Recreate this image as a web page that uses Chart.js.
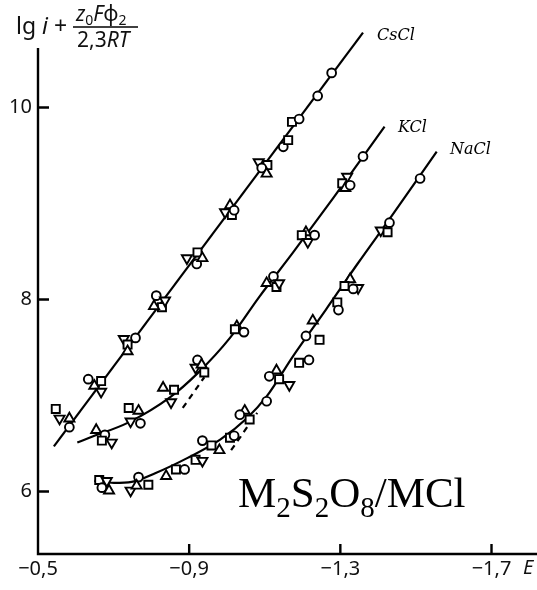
<!DOCTYPE html>
<html>
<head>
<meta charset="utf-8">
<script src="https://cdn.jsdelivr.net/npm/chart.js@4"></script>
<style>
  body { margin: 0; background: #fff; }
  canvas { display: block; }
</style>
</head>
<body>
<canvas id="chart" width="537" height="590"></canvas>
<script>
// axis ticks
const xTicks = [-0.5, -0.9, -1.3, -1.7];
const yTicks = [6, 8, 10];

// fitted curves (E, lg i + ...)
const csclLineE = [-0.542, -1.360];
const csclLineLg = [6.47, 10.78];
const kclLineE = [-0.604, -0.636, -0.740, -0.849, -0.922, -1.008, -1.086, -1.175, -1.282, -1.417];
const kclLineLg = [6.51, 6.56, 6.72, 6.98, 7.23, 7.60, 8.03, 8.49, 9.06, 9.80];
const naclLineE = [-0.649, -0.701, -0.748, -0.810, -0.896, -0.982, -1.052, -1.105, -1.175, -1.261, -1.347, -1.436, -1.555];
const naclLineLg = [6.11, 6.09, 6.10, 6.19, 6.35, 6.54, 6.76, 6.99, 7.41, 7.89, 8.38, 8.87, 9.54];

// dashed extrapolations
const kclDashE = [-0.883, -0.940];
const kclDashLg = [6.87, 7.19];
const naclDashE = [-1.011, -1.080];
const naclDashLg = [6.43, 6.82];

// measured points; marks: o circle, s square, ^ triangle, v triangle down
const csclE = [-0.547,-0.557,-0.583,-0.583,-0.633,-0.667,-0.649,-0.667,-0.727,-0.758,-0.737,-0.737,-0.813,-0.828,-0.807,-0.836,-0.894,-0.922,-0.920,-0.935,-1.008,-1.013,-0.995,-1.019,-1.084,-1.107,-1.092,-1.105,-1.149,-1.162,-1.172,-1.191,-1.240,-1.277];
const csclLg = [6.86,6.76,6.76,6.67,7.17,7.15,7.10,7.04,7.59,7.60,7.53,7.46,8.04,7.92,7.93,7.99,8.43,8.49,8.37,8.43,8.98,8.88,8.91,8.93,9.43,9.40,9.37,9.31,9.59,9.66,9.85,9.88,10.12,10.36];
const csclMark = ['s','v','^','o','o','s','^','v','v','o','s','^','o','s','^','v','v','s','o','^','^','s','v','o','v','s','o','^','o','s','s','o','o','o'];

const kclE = [-0.654,-0.677,-0.669,-0.695,-0.740,-0.766,-0.745,-0.771,-0.831,-0.860,-0.852,-0.922,-0.917,-0.940,-0.933,-1.026,-1.021,-1.045,-1.105,-1.123,-1.131,-1.138,-1.209,-1.198,-1.214,-1.232,-1.318,-1.305,-1.313,-1.326,-1.360];
const kclLg = [6.64,6.59,6.53,6.51,6.87,6.84,6.73,6.71,7.08,7.06,6.93,7.37,7.29,7.24,7.32,7.72,7.69,7.66,8.17,8.24,8.13,8.17,8.70,8.67,8.60,8.67,9.28,9.21,9.16,9.19,9.49];
const kclMark = ['^','o','s','v','s','^','v','o','^','s','v','o','v','s','^','^','s','o','^','o','s','v','^','s','v','o','v','s','^','o','o'];

const naclE = [-0.662,-0.682,-0.669,-0.688,-0.745,-0.766,-0.761,-0.792,-0.839,-0.865,-0.888,-0.917,-0.935,-0.935,-0.959,-0.980,-1.008,-1.019,-1.047,-1.060,-1.034,-1.105,-1.131,-1.112,-1.138,-1.165,-1.191,-1.217,-1.227,-1.209,-1.245,-1.292,-1.295,-1.326,-1.311,-1.347,-1.334,-1.407,-1.425,-1.430,-1.511];
const naclLg = [6.12,6.11,6.04,6.01,6.01,6.15,6.06,6.07,6.16,6.23,6.23,6.33,6.32,6.53,6.48,6.43,6.56,6.58,6.84,6.75,6.80,6.94,7.26,7.20,7.17,7.11,7.34,7.37,7.78,7.62,7.58,7.97,7.89,8.21,8.14,8.12,8.11,8.72,8.70,8.80,9.26];
const naclMark = ['s','v','o','^','v','o','^','s','^','s','o','s','v','o','s','^','s','o','^','s','o','o','^','o','s','v','s','o','^','o','s','s','o','^','s','v','o','v','s','o','o'];

const TICK_FONT = '"Noto Sans", "Open Sans", sans-serif';
const SERIF = '"Liberation Serif", "Times New Roman", serif';
const LABEL_FONT = '"DejaVu Serif", serif';

function pts(xs, ys) {
    return xs.map((x, i) => ({ x: x, y: ys[i] }));
}

function markerSet(xs, ys, marks) {
    return {
        type: 'scatter',
        order: 0,
        data: pts(xs, ys),
        pointStyle: marks.map(m => m === 'o' ? 'circle' : (m === 's' ? 'rect' : 'triangle')),
        pointRotation: marks.map(m => m === 'v' ? 180 : 0),
        pointRadius: marks.map(m => m === 'o' ? 4.4 : (m === 's' ? 5.7 : 5.8)),
        pointBackgroundColor: '#fff',
        pointBorderColor: '#000',
        pointBorderWidth: 1.9,
        clip: false
    };
}

function lineSet(xs, ys, dash) {
    return {
        type: 'line',
        order: 1,
        data: pts(xs, ys),
        borderColor: '#000',
        borderWidth: 2.2,
        borderDash: dash || [],
        pointRadius: 0,
        cubicInterpolationMode: 'monotone',
        fill: false,
        clip: false
    };
}

// draw text pieces one after another: [text, font, dy]
function drawRuns(ctx, x, y, runs) {
    runs.forEach(r => {
        ctx.font = r[1];
        ctx.fillText(r[0], x, y + (r[2] || 0));
        x += ctx.measureText(r[0]).width;
    });
    return x;
}

const decorPlugin = {
    id: 'decor',
    afterDraw(chart) {
        const ctx = chart.ctx;
        const xs = chart.scales.x, ys = chart.scales.y;
        const x0 = xs.getPixelForValue(-0.5);
        const yb = ys.getPixelForValue(ys.min);
        ctx.save();
        ctx.strokeStyle = '#000';
        ctx.fillStyle = '#111';
        ctx.lineWidth = 2.4;
        // axes
        ctx.beginPath();
        ctx.moveTo(x0, 48);
        ctx.lineTo(x0, yb);
        ctx.lineTo(chart.width, yb);
        ctx.stroke();
        // inward ticks
        ctx.beginPath();
        yTicks.forEach(v => {
            const p = ys.getPixelForValue(v);
            ctx.moveTo(x0, p);
            ctx.lineTo(x0 + 11, p);
        });
        xTicks.slice(1).forEach(v => {
            const p = xs.getPixelForValue(v);
            ctx.moveTo(p, yb);
            ctx.lineTo(p, yb - 10);
        });
        ctx.stroke();

        ctx.textBaseline = 'alphabetic';
        ctx.textAlign = 'left';

        // y axis title: lg i + z0 F phi2 / 2,3RT
        drawRuns(ctx, 16, 34, [
            ['lg ', '23px ' + TICK_FONT],
            ['i', 'italic 23px ' + TICK_FONT],
            [' + ', '23px ' + TICK_FONT]
        ]);
        drawRuns(ctx, 76, 21, [
            ['z', 'italic 21px ' + TICK_FONT],
            ['0', '14px ' + TICK_FONT, 4],
            ['F', 'italic 21px ' + TICK_FONT],
            ['\u03c6', '21px ' + TICK_FONT],
            ['2', '14px ' + TICK_FONT, 4]
        ]);
        ctx.lineWidth = 1.4;
        ctx.beginPath();
        ctx.moveTo(73, 27);
        ctx.lineTo(138, 27);
        ctx.stroke();
        drawRuns(ctx, 77, 47, [
            ['2,3', '21px ' + TICK_FONT],
            ['RT', 'italic 21px ' + TICK_FONT]
        ]);

        // x axis title
        ctx.font = 'italic 20px ' + TICK_FONT;
        ctx.fillText('E', 523, 574);

        // curve names
        ctx.fillStyle = '#000';
        ctx.font = 'italic 16px ' + LABEL_FONT;
        ctx.fillText('CsCl', 377, 40);
        ctx.fillText('KCl', 398, 132);
        ctx.fillText('NaCl', 450, 154);

        // system label
        drawRuns(ctx, 238, 507, [
            ['M', '43px ' + SERIF],
            ['2', '29px ' + SERIF, 10],
            ['S', '43px ' + SERIF],
            ['2', '29px ' + SERIF, 10],
            ['O', '43px ' + SERIF],
            ['8', '29px ' + SERIF, 10],
            ['/MCl', '43px ' + SERIF]
        ]);
        ctx.restore();
    }
};

new Chart(document.getElementById('chart'), {
    type: 'scatter',
    data: {
        datasets: [
            markerSet(csclE, csclLg, csclMark),
            markerSet(kclE, kclLg, kclMark),
            markerSet(naclE, naclLg, naclMark),
            lineSet(csclLineE, csclLineLg),
            lineSet(kclLineE, kclLineLg),
            lineSet(naclLineE, naclLineLg),
            lineSet(kclDashE, kclDashLg, [6, 5]),
            lineSet(naclDashE, naclDashLg, [6, 5])
        ]
    },
    options: {
        responsive: false,
        animation: false,
        devicePixelRatio: 1,
        events: [],
        layout: { padding: { top: 20, right: 0, bottom: 0, left: 0 } },
        plugins: {
            legend: { display: false },
            tooltip: { enabled: false }
        },
        scales: {
            x: {
                type: 'linear',
                reverse: true,
                min: -1.8,
                max: -0.5,
                grid: { display: false, drawTicks: false },
                border: { display: false },
                afterBuildTicks: s => { s.ticks = xTicks.map(v => ({ value: v })); },
                afterFit: s => { s.height = 36; },
                ticks: {
                    autoSkip: false,
                    maxRotation: 0,
                    padding: 3,
                    color: '#111',
                    font: { family: TICK_FONT, size: 20 },
                    callback: v => (v < 0 ? '\u2212' : '') + Math.abs(v).toFixed(1).replace('.', ',')
                }
            },
            y: {
                type: 'linear',
                min: 5.349,
                max: 10.911,
                grid: { display: false, drawTicks: false },
                border: { display: false },
                afterBuildTicks: s => { s.ticks = yTicks.map(v => ({ value: v })); },
                afterFit: s => { s.width = 38; },
                ticks: {
                    padding: 6,
                    color: '#111',
                    font: { family: TICK_FONT, size: 20 },
                    callback: v => String(v)
                }
            }
        }
    },
    plugins: [decorPlugin]
});
</script>
</body>
</html>
